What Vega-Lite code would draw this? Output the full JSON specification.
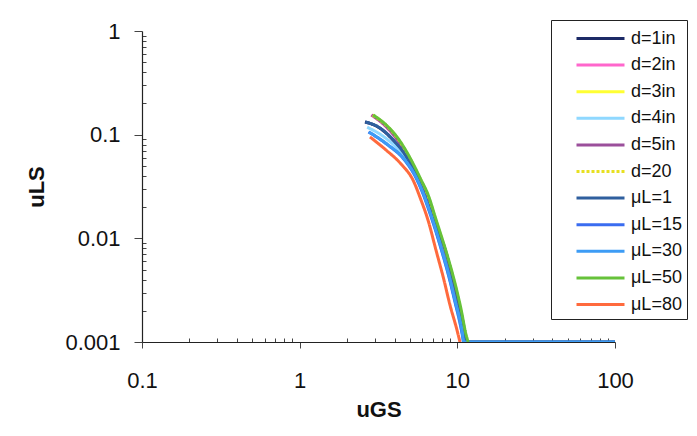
{
  "$schema": "https://vega.github.io/schema/vega-lite/v6.json",
  "width": 473,
  "height": 311,
  "autosize": {"type": "none"},
  "padding": {"left": 142, "top": 31, "right": 82, "bottom": 94},
  "background": "white",
  "config": {
    "view": {"stroke": null},
    "font": "Liberation Sans",
    "axis": {"labelFont": "Liberation Sans", "titleFont": "Liberation Sans", "labelColor": "#111", "titleColor": "#111", "domainColor": "#222", "tickColor": "#444", "grid": false}
  },
  "data": {
    "values": [
      {"s": "d=1in", "x": 2.595, "y": 0.1326}, {"s": "d=1in", "x": 3.137, "y": 0.1187}, {"s": "d=1in", "x": 3.905, "y": 0.0889}, {"s": "d=1in", "x": 4.862, "y": 0.057}, {"s": "d=1in", "x": 5.627, "y": 0.0366}, {"s": "d=1in", "x": 6.322, "y": 0.0235}, {"s": "d=1in", "x": 7.004, "y": 0.01504}, {"s": "d=1in", "x": 8.345, "y": 0.00773}, {"s": "d=1in", "x": 9.378, "y": 0.00397}, {"s": "d=1in", "x": 10.23, "y": 0.00228}, {"s": "d=1in", "x": 11.17, "y": 0.00117}, {"s": "d=1in", "x": 11.34, "y": 0.001}, {"s": "d=1in", "x": 100, "y": 0.001},
      {"s": "d=2in", "x": 2.845, "y": 0.1549}, {"s": "d=2in", "x": 3.44, "y": 0.124}, {"s": "d=2in", "x": 4.16, "y": 0.0889}, {"s": "d=2in", "x": 4.956, "y": 0.057}, {"s": "d=2in", "x": 5.651, "y": 0.0382}, {"s": "d=2in", "x": 6.351, "y": 0.0262}, {"s": "d=2in", "x": 7.139, "y": 0.01504}, {"s": "d=2in", "x": 8.381, "y": 0.00692}, {"s": "d=2in", "x": 9.284, "y": 0.00397}, {"s": "d=2in", "x": 10.29, "y": 0.00204}, {"s": "d=2in", "x": 11.06, "y": 0.00117}, {"s": "d=2in", "x": 11.39, "y": 0.001},
      {"s": "d=3in", "x": 2.897, "y": 0.1549}, {"s": "d=3in", "x": 3.502, "y": 0.124}, {"s": "d=3in", "x": 4.236, "y": 0.0889}, {"s": "d=3in", "x": 5.046, "y": 0.057}, {"s": "d=3in", "x": 5.754, "y": 0.0382}, {"s": "d=3in", "x": 6.466, "y": 0.0262}, {"s": "d=3in", "x": 7.269, "y": 0.01504}, {"s": "d=3in", "x": 8.534, "y": 0.00692}, {"s": "d=3in", "x": 9.453, "y": 0.00397}, {"s": "d=3in", "x": 10.47, "y": 0.00204}, {"s": "d=3in", "x": 11.26, "y": 0.00117}, {"s": "d=3in", "x": 11.6, "y": 0.001},
      {"s": "d=4in", "x": 2.68, "y": 0.118}, {"s": "d=4in", "x": 3.4, "y": 0.096}, {"s": "d=4in", "x": 4.3, "y": 0.07}, {"s": "d=4in", "x": 5.1, "y": 0.05}, {"s": "d=4in", "x": 5.8, "y": 0.033}, {"s": "d=4in", "x": 6.6, "y": 0.02}, {"s": "d=4in", "x": 7.7, "y": 0.009}, {"s": "d=4in", "x": 8.6, "y": 0.005}, {"s": "d=4in", "x": 9.5, "y": 0.0028}, {"s": "d=4in", "x": 10.45, "y": 0.00145}, {"s": "d=4in", "x": 11.1, "y": 0.001},
      {"s": "d=5in", "x": 2.86, "y": 0.1549}, {"s": "d=5in", "x": 3.457, "y": 0.124}, {"s": "d=5in", "x": 4.181, "y": 0.0889}, {"s": "d=5in", "x": 4.981, "y": 0.057}, {"s": "d=5in", "x": 5.679, "y": 0.0382}, {"s": "d=5in", "x": 6.383, "y": 0.0262}, {"s": "d=5in", "x": 7.175, "y": 0.01504}, {"s": "d=5in", "x": 8.424, "y": 0.00692}, {"s": "d=5in", "x": 9.331, "y": 0.00397}, {"s": "d=5in", "x": 10.34, "y": 0.00204}, {"s": "d=5in", "x": 11.11, "y": 0.00117}, {"s": "d=5in", "x": 11.45, "y": 0.001},
      {"s": "d=20", "x": 2.908, "y": 0.1549}, {"s": "d=20", "x": 3.516, "y": 0.124}, {"s": "d=20", "x": 4.252, "y": 0.0889}, {"s": "d=20", "x": 5.066, "y": 0.057}, {"s": "d=20", "x": 5.777, "y": 0.0382}, {"s": "d=20", "x": 6.492, "y": 0.0262}, {"s": "d=20", "x": 7.298, "y": 0.01504}, {"s": "d=20", "x": 8.568, "y": 0.00692}, {"s": "d=20", "x": 9.491, "y": 0.00397}, {"s": "d=20", "x": 10.51, "y": 0.00204}, {"s": "d=20", "x": 11.3, "y": 0.00117}, {"s": "d=20", "x": 11.65, "y": 0.001},
      {"s": "μL=1", "x": 2.608, "y": 0.1326}, {"s": "μL=1", "x": 3.153, "y": 0.1187}, {"s": "μL=1", "x": 3.925, "y": 0.0889}, {"s": "μL=1", "x": 4.886, "y": 0.057}, {"s": "μL=1", "x": 5.655, "y": 0.0366}, {"s": "μL=1", "x": 6.354, "y": 0.0235}, {"s": "μL=1", "x": 7.039, "y": 0.01504}, {"s": "μL=1", "x": 8.387, "y": 0.00773}, {"s": "μL=1", "x": 9.425, "y": 0.00397}, {"s": "μL=1", "x": 10.28, "y": 0.00228}, {"s": "μL=1", "x": 11.23, "y": 0.00117}, {"s": "μL=1", "x": 11.4, "y": 0.001}, {"s": "μL=1", "x": 100, "y": 0.001},
      {"s": "μL=15", "x": 2.731, "y": 0.1062}, {"s": "μL=15", "x": 3.553, "y": 0.0813}, {"s": "μL=15", "x": 4.62, "y": 0.057}, {"s": "μL=15", "x": 5.346, "y": 0.0409}, {"s": "μL=15", "x": 5.921, "y": 0.0293}, {"s": "μL=15", "x": 6.755, "y": 0.0168}, {"s": "μL=15", "x": 7.93, "y": 0.00773}, {"s": "μL=15", "x": 8.783, "y": 0.00444}, {"s": "μL=15", "x": 9.588, "y": 0.00255}, {"s": "μL=15", "x": 10.61, "y": 0.00131}, {"s": "μL=15", "x": 10.93, "y": 0.001},
      {"s": "μL=30", "x": 2.75, "y": 0.1062}, {"s": "μL=30", "x": 3.578, "y": 0.0813}, {"s": "μL=30", "x": 4.653, "y": 0.057}, {"s": "μL=30", "x": 5.384, "y": 0.0409}, {"s": "μL=30", "x": 5.963, "y": 0.0293}, {"s": "μL=30", "x": 6.803, "y": 0.0168}, {"s": "μL=30", "x": 7.986, "y": 0.00773}, {"s": "μL=30", "x": 8.845, "y": 0.00444}, {"s": "μL=30", "x": 9.656, "y": 0.00255}, {"s": "μL=30", "x": 10.69, "y": 0.00131}, {"s": "μL=30", "x": 11.01, "y": 0.001}, {"s": "μL=30", "x": 100, "y": 0.001},
      {"s": "μL=50", "x": 2.926, "y": 0.1549}, {"s": "μL=50", "x": 3.537, "y": 0.124}, {"s": "μL=50", "x": 4.278, "y": 0.0889}, {"s": "μL=50", "x": 5.096, "y": 0.057}, {"s": "μL=50", "x": 5.811, "y": 0.0382}, {"s": "μL=50", "x": 6.53, "y": 0.0262}, {"s": "μL=50", "x": 7.341, "y": 0.01504}, {"s": "μL=50", "x": 8.618, "y": 0.00692}, {"s": "μL=50", "x": 9.547, "y": 0.00397}, {"s": "μL=50", "x": 10.58, "y": 0.00204}, {"s": "μL=50", "x": 11.37, "y": 0.00117}, {"s": "μL=50", "x": 11.72, "y": 0.001},
      {"s": "μL=80", "x": 2.791, "y": 0.095}, {"s": "μL=80", "x": 3.526, "y": 0.0712}, {"s": "μL=80", "x": 4.454, "y": 0.051}, {"s": "μL=80", "x": 5.229, "y": 0.0366}, {"s": "μL=80", "x": 5.877, "y": 0.0235}, {"s": "μL=80", "x": 6.512, "y": 0.01504}, {"s": "μL=80", "x": 7.316, "y": 0.00773}, {"s": "μL=80", "x": 8.222, "y": 0.00397}, {"s": "μL=80", "x": 8.977, "y": 0.00228}, {"s": "μL=80", "x": 9.942, "y": 0.00131}, {"s": "μL=80", "x": 10.39, "y": 0.001}
    ]
  },
  "mark": {"type": "line", "clip": true, "interpolate": "monotone"},
  "encoding": {
    "x": {
      "field": "x", "type": "quantitative",
      "scale": {"type": "log", "domain": [0.1, 100], "nice": false},
      "axis": {
        "title": "uGS", "titleFontSize": 22, "titleFontWeight": "bold", "titlePadding": 8,
        "values": [0.1, 0.2, 0.3, 0.4, 0.5, 0.6, 0.7, 0.8, 0.9, 1, 2, 3, 4, 5, 6, 7, 8, 9, 10, 20, 30, 40, 50, 60, 70, 80, 90, 100],
        "format": "~g",
        "labelExpr": "abs(log(datum.value)/LN10 - round(log(datum.value)/LN10)) < 0.01 ? datum.label : ''",
        "tickSize": {"condition": {"test": "abs(log(datum.value)/LN10 - round(log(datum.value)/LN10)) < 0.01", "value": 6}, "value": -4},
        "labelFontSize": 22, "labelPadding": 22, "labelOverlap": false, "labelBound": false, "labelFlush": false,
        "domainWidth": 1.2
      }
    },
    "y": {
      "field": "y", "type": "quantitative",
      "scale": {"type": "log", "domain": [0.001, 1], "nice": false},
      "axis": {
        "title": "uLS", "titleFontSize": 22, "titleFontWeight": "bold", "titlePadding": 16,
        "values": [0.001, 0.002, 0.003, 0.004, 0.005, 0.006, 0.007, 0.008, 0.009, 0.01, 0.02, 0.03, 0.04, 0.05, 0.06, 0.07, 0.08, 0.09, 0.1, 0.2, 0.3, 0.4, 0.5, 0.6, 0.7, 0.8, 0.9, 1],
        "format": "~g",
        "labelExpr": "abs(log(datum.value)/LN10 - round(log(datum.value)/LN10)) < 0.01 ? datum.label : ''",
        "tickSize": {"condition": {"test": "abs(log(datum.value)/LN10 - round(log(datum.value)/LN10)) < 0.01", "value": 8}, "value": -4},
        "labelFontSize": 22, "labelPadding": 14, "labelOverlap": false, "labelBound": false, "labelFlush": false,
        "domainWidth": 1.2
      }
    },
    "color": {
      "field": "s", "type": "nominal",
      "scale": {
        "domain": ["d=1in", "d=2in", "d=3in", "d=4in", "d=5in", "d=20", "μL=1", "μL=15", "μL=30", "μL=50", "μL=80"],
        "range": ["#1c2a66", "#ff66cc", "#ffff33", "#8fd8ff", "#9b4f9b", "#e8e020", "#2f5f9e", "#3a6cf0", "#3d9cf5", "#66c23a", "#ff6a3d"]
      },
      "legend": {
        "orient": "none", "legendX": 409, "legendY": -11, "title": null,
        "symbolType": "M-2,0H2", "symbolSize": 576, "symbolStrokeWidth": 2.5,
        "labelFontSize": 18, "labelFont": "Liberation Sans", "labelColor": "#111",
        "strokeColor": "#222", "fillColor": "white",
        "padding": 5, "rowPadding": 3.6, "symbolOffset": 31, "labelOffset": 17
      }
    },
    "strokeDash": {
      "field": "s", "type": "nominal",
      "scale": {
        "domain": ["d=1in", "d=2in", "d=3in", "d=4in", "d=5in", "d=20", "μL=1", "μL=15", "μL=30", "μL=50", "μL=80"],
        "range": [[1, 0], [1, 0], [1, 0], [1, 0], [1, 0], [3, 2], [1, 0], [1, 0], [1, 0], [1, 0], [1, 0]]
      },
      "legend": {
        "orient": "none", "legendX": 409, "legendY": -11, "title": null,
        "symbolType": "M-2,0H2", "symbolSize": 576, "symbolStrokeWidth": 2.5,
        "labelFontSize": 18, "labelFont": "Liberation Sans", "labelColor": "#111",
        "strokeColor": "#222", "fillColor": "white",
        "padding": 5, "rowPadding": 3.6, "symbolOffset": 31, "labelOffset": 17
      }
    },
    "strokeWidth": {
      "field": "s", "type": "nominal",
      "scale": {
        "domain": ["d=1in", "d=2in", "d=3in", "d=4in", "d=5in", "d=20", "μL=1", "μL=15", "μL=30", "μL=50", "μL=80"],
        "range": [3, 3, 3, 2.5, 1.5, 2.5, 3, 1.5, 3, 3, 3]
      },
      "legend": null
    }
  }
}
